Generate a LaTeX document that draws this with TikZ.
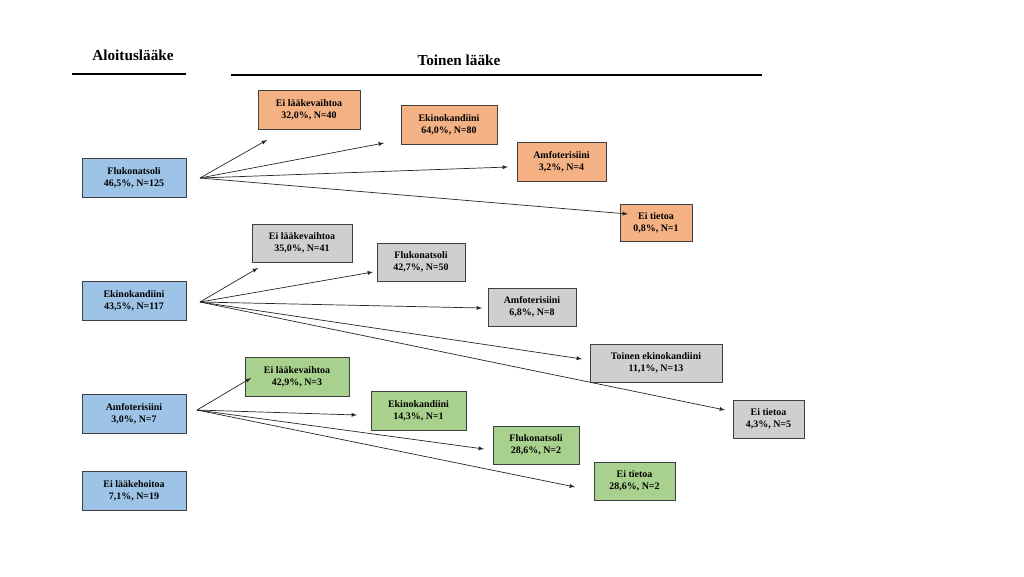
\documentclass[tikz,border=0pt]{standalone}
\usepackage{fontspec}
\setmainfont{Liberation Serif}
\begin{document}
\begin{tikzpicture}[x=0.03cm,y=-0.03cm,
 box/.style={draw=black!75,line width=0.6pt,align=center,font=\bfseries\fontsize{8.5}{10.5}\selectfont,inner sep=0pt},
 bl/.style={box,fill=blue1},or/.style={box,fill=orange1},gr/.style={box,fill=gray1},gn/.style={box,fill=green1},
 arr/.style={-latex,line width=0.6pt,black!85},
 hd/.style={font=\bfseries\fontsize{13}{15}\selectfont}]
\definecolor{blue1}{RGB}{157,195,230}
\definecolor{orange1}{RGB}{244,177,131}
\definecolor{gray1}{RGB}{208,206,206}
\definecolor{green1}{RGB}{169,209,142}
\useasboundingbox (0,0) rectangle (1024,576);
\node[hd] (h1) at (133,55) {Aloituslääke};
\draw[line width=1.2pt] (72,74) -- (186,74);
\node[hd] (h2) at (459,60) {Toinen lääke};
\draw[line width=1.2pt] (231,75) -- (762,75);
% left
\node[bl,minimum width=104*0.03cm,minimum height=39*0.03cm] (a1) at (134,177.5) {Flukonatsoli\\46,5\%, N=125};
\node[bl,minimum width=104*0.03cm,minimum height=39*0.03cm] (a2) at (134,300.5) {Ekinokandiini\\43,5\%, N=117};
\node[bl,minimum width=104*0.03cm,minimum height=39*0.03cm] (a3) at (134,413.5) {Amfoterisiini\\3,0\%, N=7};
\node[bl,minimum width=104*0.03cm,minimum height=39*0.03cm] (a4) at (134,490.5) {Ei lääkehoitoa\\7,1\%, N=19};
% orange
\node[or,minimum width=102*0.03cm,minimum height=39*0.03cm] (o1) at (309,109.5) {Ei lääkevaihtoa\\32,0\%, N=40};
\node[or,minimum width=96*0.03cm,minimum height=39*0.03cm] (o2) at (449,124.5) {Ekinokandiini\\64,0\%, N=80};
\node[or,minimum width=89*0.03cm,minimum height=39*0.03cm] (o3) at (561.5,161.5) {Amfoterisiini\\3,2\%, N=4};
\node[or,minimum width=72*0.03cm,minimum height=37*0.03cm] (o4) at (656,222.5) {Ei tietoa\\0,8\%, N=1};
% gray
\node[gr,minimum width=100*0.03cm,minimum height=38*0.03cm] (g1) at (302,243) {Ei lääkevaihtoa\\35,0\%, N=41};
\node[gr,minimum width=88*0.03cm,minimum height=38*0.03cm] (g2) at (421,262) {Flukonatsoli\\42,7\%, N=50};
\node[gr,minimum width=88*0.03cm,minimum height=38*0.03cm] (g3) at (532,307) {Amfoterisiini\\6,8\%, N=8};
\node[gr,minimum width=132*0.03cm,minimum height=38*0.03cm] (g4) at (656,363) {Toinen ekinokandiini\\11,1\%, N=13};
\node[gr,minimum width=71*0.03cm,minimum height=38*0.03cm] (g5) at (768.5,419) {Ei tietoa\\4,3\%, N=5};
% green
\node[gn,minimum width=104*0.03cm,minimum height=39*0.03cm] (n1) at (297,376.5) {Ei lääkevaihtoa\\42,9\%, N=3};
\node[gn,minimum width=95*0.03cm,minimum height=39*0.03cm] (n2) at (418.5,410.5) {Ekinokandiini\\14,3\%, N=1};
\node[gn,minimum width=86*0.03cm,minimum height=38*0.03cm] (n3) at (536,445) {Flukonatsoli\\28,6\%, N=2};
\node[gn,minimum width=81*0.03cm,minimum height=38*0.03cm] (n4) at (634.5,481) {Ei tietoa\\28,6\%, N=2};
% arrows
\coordinate (s1) at (200,178);
\coordinate (s2) at (200,302);
\coordinate (s3) at (197,410);
\coordinate (e11) at (267,140); \coordinate (e12) at (384,143); \coordinate (e13) at (508,167); \coordinate (e14) at (628,214);
\coordinate (e21) at (258,268); \coordinate (e22) at (373,272); \coordinate (e23) at (482,308); \coordinate (e24) at (582,359); \coordinate (e25) at (725,410);
\coordinate (e31) at (251,378); \coordinate (e32) at (357,415); \coordinate (e33) at (484,449); \coordinate (e34) at (575,487);
\foreach \i in {1,...,4} \draw[arr] (s1) -- (e1\i);
\foreach \i in {1,...,5} \draw[arr] (s2) -- (e2\i);
\foreach \i in {1,...,4} \draw[arr] (s3) -- (e3\i);
\end{tikzpicture}
\end{document}
